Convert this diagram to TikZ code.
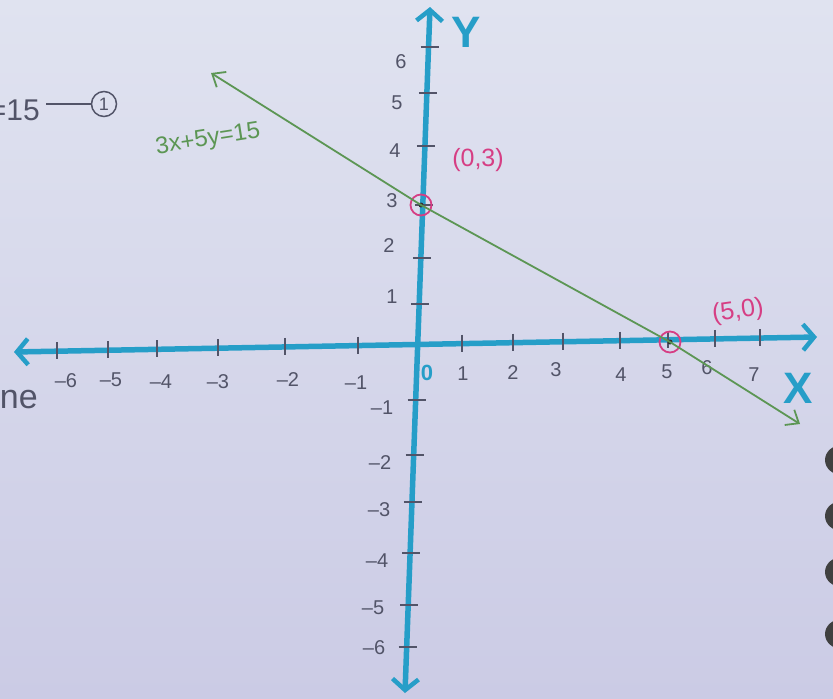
\documentclass[tikz,border=0pt]{standalone}
\usepackage{fontspec}
\setmainfont{Liberation Sans}
\usetikzlibrary{arrows.meta}
\definecolor{paperTop}{RGB}{224,227,240}
\definecolor{paperBot}{RGB}{203,203,229}
\definecolor{axisBlue}{RGB}{38,158,200}
\definecolor{lineGreen}{RGB}{92,150,84}
\definecolor{markPink}{RGB}{214,62,132}
\definecolor{pencil}{RGB}{82,84,104}
\begin{document}
\begin{tikzpicture}[x=1pt,y=-1pt,
  axis/.style={draw=axisBlue,line width=5.5pt,line cap=round,{Straight Barb[length=11pt,width=26pt,line width=4.5pt]}-{Straight Barb[length=11pt,width=26pt,line width=4.5pt]}},
  tick/.style={draw=pencil,line width=1.8pt},
  num/.style={inner sep=0pt,text=pencil,font=\fontsize{20}{24}\selectfont},
  graph/.style={draw=lineGreen,line width=1.8pt,{Straight Barb[length=11pt,width=18pt]}-{Straight Barb[length=11pt,width=18pt]}},
  hit/.style={circle,draw=markPink,line width=1.8pt,minimum size=21pt,inner sep=0pt},
  pinktext/.style={inner sep=0pt,text=markPink,font=\fontsize{25}{30}\selectfont},
  axislabel/.style={inner sep=0pt,text=axisBlue,font=\bfseries\fontsize{44}{50}\selectfont}]
\path[use as bounding box] (0,0) rectangle (833,699);
\shade[top color=paperTop,bottom color=paperBot] (0,0) rectangle (833,699);
% binding on the right edge
\foreach \by in {460,516,572,634}
  \fill[black!75] (842,\by) ellipse (17pt and 15pt);
% axes
\coordinate (xl) at (14,352);
\coordinate (xr) at (817,337);
\coordinate (yt) at (430,7);
\coordinate (yb) at (405,693);
\draw[axis] (xl) -- (xr);
\draw[axis] (yb) -- (yt);
% x ticks
\foreach \px/\lab/\lx/\ly in {57/\textendash6/66/381,108/\textendash5/111/380,157/\textendash4/161/382,218/\textendash3/218/382,285/\textendash2/288/380,358/\textendash1/356/383,462/1/463/374,513/2/513/373,563/3/556/370,620/4/621/375,668/5/667/372,715/6/707/368,760/7/754/375}{
  \pgfmathsetmacro\py{352-(\px-14)*15/803}
  \draw[tick] (\px,\py-9) -- (\px,\py+8);
  \node[num] at (\lx,\ly) {\lab};
}
% y ticks
\foreach \py/\lab/\lx/\ly in {47/6/401/62,93/5/397/103,146/4/395/151,205/3/392/201,258/2/389/246,304/1/392/297,400/\textendash1/382/408,455/\textendash2/380/463,502/\textendash3/379/510,553/\textendash4/377/561,605/\textendash5/373/608,647/\textendash6/374/648}{
  \pgfmathsetmacro\px{430-(\py-7)*25/686}
  \draw[tick] (\px-8,\py) -- (\px+10,\py);
  \node[num] at (\lx,\ly) {\lab};
}
\node[inner sep=0pt,text=axisBlue,font=\bfseries\fontsize{22}{26}\selectfont] (orig) at (427,373) {0};
\node[axislabel] (ylab) at (466,32) {Y};
\node[axislabel] (xlab) at (798,388) {X};
% intercepts and the line
\node[hit] (p03) at (421,205) {};
\node[hit] (p50) at (670,342) {};
\fill[black!80] (p03.center) circle (2.5pt);
\fill[black!80] (p50.center) circle (2.5pt);
\coordinate (gl) at (211,73);
\coordinate (gr) at (800,424);
\draw[graph] (gl) -- (p03.center) -- (p50.center) -- (gr);
\node[inner sep=0pt,text=lineGreen,font=\fontsize{24}{28}\selectfont,rotate=9] (eqn) at (208,140) {3x+5y=15};
\node[pinktext] (l03) at (478,160) {(0,3)};
\node[pinktext,rotate=8] (l50) at (738,312) {(5,0)};
% left margin notes
\node[inner sep=0pt,text=pencil,font=\fontsize{30}{34}\selectfont,anchor=east] (eqend) at (40,110) {=15};
\node[circle,draw=pencil,line width=1.5pt,inner sep=1pt,minimum size=25pt,text=pencil,font=\fontsize{18}{20}\selectfont] (one) at (104,104) {1};
\draw[pencil,line width=1.6pt] (eqend.east) ++(6,-6) -- (one.west);
\node[inner sep=0pt,text=pencil,font=\fontsize{34}{38}\selectfont,anchor=east] (ne) at (38,400) {ne};
\end{tikzpicture}
\end{document}
